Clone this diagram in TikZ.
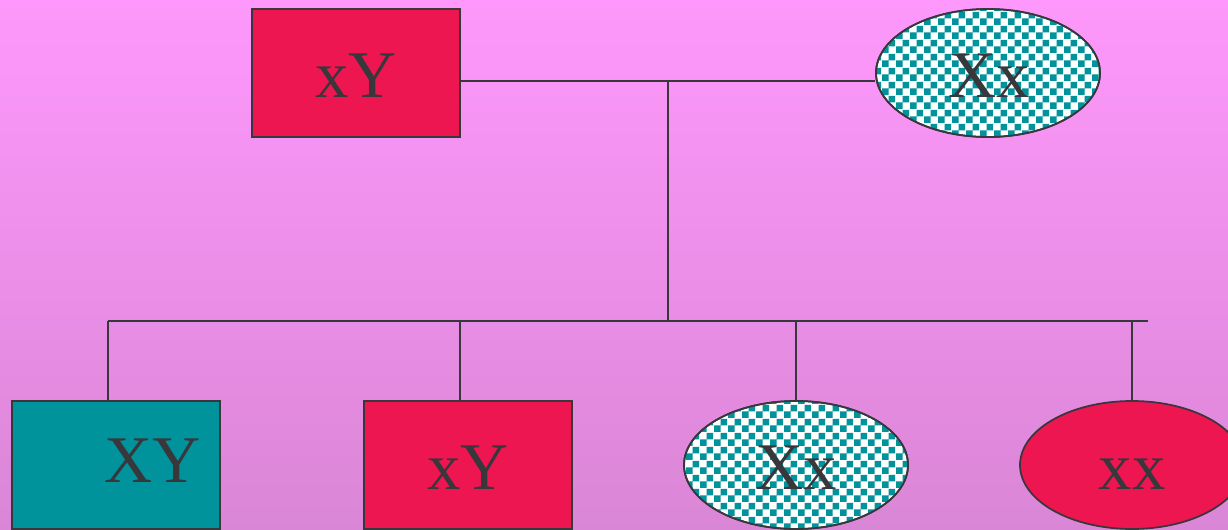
\documentclass[tikz,border=0pt]{standalone}
\usepackage{fontspec}
\setmainfont{Liberation Serif}
\usetikzlibrary{shapes.geometric,patterns.meta}
\definecolor{bgtop}{RGB}{254,152,252}
\definecolor{bgbot}{RGB}{218,134,214}
\definecolor{crim}{RGB}{238,22,80}
\definecolor{tealc}{RGB}{0,147,155}
\definecolor{ink}{RGB}{55,55,60}
\pgfdeclarepattern{name=mychecker, type=uncolored,
  bottom left={\pgfpoint{0pt}{0pt}}, top right={\pgfpoint{10.5pt}{10.5pt}},
  tile size={\pgfpoint{10.5pt}{10.5pt}},
  code={\pgfpathrectangle{\pgfpointorigin}{\pgfpoint{5.25pt}{5.25pt}}
        \pgfpathrectangle{\pgfpoint{5.25pt}{5.25pt}}{\pgfpoint{5.25pt}{5.25pt}}
        \pgfusepath{fill}}}
\tikzset{
  conn/.style={draw=ink,line width=1.3pt},
  boxshape/.style={rectangle,draw=ink,line width=1.3pt,minimum width=156pt,minimum height=96pt,inner sep=0pt},
  ovalshape/.style={ellipse,draw=ink,line width=1.3pt,minimum width=168pt,minimum height=96pt,inner sep=0pt},
  checkfill/.style={fill=white,pattern=mychecker,pattern color=tealc},
  lbl/.style={text=ink,font=\fontsize{50}{50}\selectfont,anchor=base,inner sep=0pt}
}
\begin{document}
\begin{tikzpicture}[x=0.75pt,y=-0.75pt]
\useasboundingbox (0,0) rectangle (1228,529);
\shade[top color=bgtop,bottom color=bgbot] (0,0) rectangle (1228,529);
\begin{scope}
\clip (0,0) rectangle (1228,529);
% top generation
\node[boxshape,fill=crim] (pa) at (356,73) {};
\node[ovalshape,fill=white] (mab) at (988,73) {};
\node[ovalshape,checkfill] (ma) at (988,73) {};
% children
\node[boxshape,fill=tealc] (c1) at (116,465) {};
\node[boxshape,fill=crim] (c2) at (468,465) {};
\node[ovalshape,fill=white] (c3b) at (796,465) {};
\node[ovalshape,checkfill] (c3) at (796,465) {};
\node[ovalshape,fill=crim] (c4) at (1132,465) {};
% connectors
\coordinate (mid) at (668,81);
\coordinate (j) at (668,321);
\coordinate (bl) at (108,321);
\coordinate (br) at (1148,321);
\coordinate (d2) at (460,321);
\coordinate (d3) at (796,321);
\coordinate (d4) at (1132,321);
\draw[conn] (pa.east |- mid) -- (ma.west |- mid);
\draw[conn] (mid) -- (j);
\draw[conn] (bl) -- (br);
\draw[conn] (bl) -- (bl |- c1.north);
\draw[conn] (d2) -- (d2 |- c2.north);
\draw[conn] (d3) -- (c3.north);
\draw[conn] (d4) -- (c4.north);
% labels
\node[lbl] (tpa) at (356,97) {xY};
\node[lbl] (tma) at (989,97) {Xx};
\node[lbl] (t1) at (153,482) {XY};
\node[lbl] (t2) at (468,489) {xY};
\node[lbl] (t3) at (796,489) {Xx};
\node[lbl] (t4) at (1132,489) {xx};
\end{scope}
\end{tikzpicture}
\end{document}
